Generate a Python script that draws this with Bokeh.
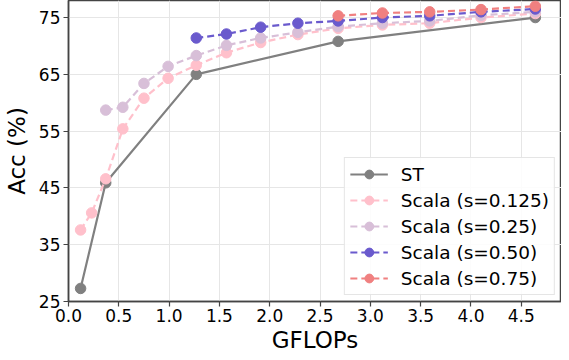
from bokeh.plotting import figure
from bokeh.models import FixedTicker, PrintfTickFormatter, Range1d, Legend, LegendItem, Title
from bokeh.embed import file_html
from bokeh.resources import INLINE

# Data
st_x = [0.12, 0.37, 1.27, 2.68, 4.64]
st_y = [27.3, 45.9, 65.0, 70.8, 75.0]

s0125_x = [0.12, 0.23, 0.37, 0.54, 0.75, 0.99, 1.27, 1.57, 1.91, 2.28, 2.68, 3.12, 3.59, 4.10, 4.64]
s0125_y = [37.6, 40.6, 46.6, 55.4, 60.8, 64.3, 66.6, 68.8, 70.6, 72.0, 73.1, 73.7, 74.0, 75.0, 75.7]

s025_x = [0.37, 0.54, 0.75, 0.99, 1.27, 1.57, 1.91, 2.28, 2.68, 3.12, 3.59, 4.10, 4.64]
s025_y = [58.7, 59.2, 63.4, 66.4, 68.3, 70.1, 71.4, 72.4, 73.4, 74.0, 74.4, 75.4, 76.0]

s050_x = [1.27, 1.57, 1.91, 2.28, 2.68, 3.12, 3.59, 4.10, 4.64]
s050_y = [71.4, 72.1, 73.3, 74.0, 74.4, 75.0, 75.3, 76.0, 76.5]

s075_x = [2.68, 3.12, 3.59, 4.10, 4.64]
s075_y = [75.3, 75.8, 76.0, 76.4, 77.0]

x_ticks = [0.0, 0.5, 1.0, 1.5, 2.0, 2.5, 3.0, 3.5, 4.0, 4.5]
y_ticks = [25, 35, 45, 55, 65, 75]

FONT = "DejaVu Sans"

p = figure(width=561, height=352, output_backend="svg", toolbar_location=None,
           x_range=Range1d(0, 4.9), y_range=Range1d(25, 78.0),
           min_border_top=0, min_border_right=0, min_border_left=0, min_border_bottom=0)

series = [
    ("ST", st_x, st_y, "#808080", "solid"),
    ("Scala (s=0.125)", s0125_x, s0125_y, "#FFC0CB", "7 4"),
    ("Scala (s=0.25)", s025_x, s025_y, "#D8BFD8", "7 4"),
    ("Scala (s=0.50)", s050_x, s050_y, "#6A5ACD", "7 4"),
    ("Scala (s=0.75)", s075_x, s075_y, "#F08080", "7 4"),
]

items = []
for label, xs, ys, color, dash in series:
    l = p.line(xs, ys, line_color=color, line_width=2.2, line_dash=dash)
    c = p.scatter(xs, ys, size=10.5, fill_color=color, line_color=color)
    items.append(LegendItem(label=label, renderers=[l, c]))

legend = Legend(items=items, location="bottom_right")
legend.label_text_font = FONT
legend.label_text_font_size = "18.5px"
legend.label_text_color = "black"
legend.glyph_width = 38
legend.glyph_height = 22
legend.label_height = 22
legend.spacing = 4
legend.padding = 5
legend.margin = 6
legend.label_standoff = 13
legend.border_line_color = "#cccccc"
legend.border_line_width = 1
legend.background_fill_alpha = 0.85
p.add_layout(legend)

p.xaxis.ticker = FixedTicker(ticks=x_ticks)
p.yaxis.ticker = FixedTicker(ticks=y_ticks)
p.xaxis.formatter = PrintfTickFormatter(format="%.1f")
p.yaxis.axis_label = "Acc (%)"

for ax in (p.xaxis, p.yaxis):
    ax.axis_label_text_font = FONT
    ax.axis_label_text_font_size = "23px"
    ax.axis_label_text_font_style = "normal"
    ax.axis_label_text_color = "black"
    ax.major_label_text_font = FONT
    ax.major_label_text_font_size = "17px"
    ax.major_label_text_color = "black"
    ax.axis_line_color = "#444444"
    ax.axis_line_width = 1.5
    ax.major_tick_line_color = "#444444"
    ax.major_tick_line_width = 1.2
    ax.major_tick_out = 5
    ax.major_tick_in = 0
    ax.minor_tick_line_color = None

p.xaxis.major_label_standoff = 2
p.yaxis.major_label_standoff = 3
p.yaxis.axis_label_standoff = 6

xtitle = Title(text="GFLOPs", align="center", text_font=FONT, text_font_size="23px",
               text_font_style="normal", text_color="black", standoff=0)
p.add_layout(xtitle, "below")

p.xgrid.grid_line_color = "#e6e6e6"
p.ygrid.grid_line_color = "#e6e6e6"
p.xgrid.grid_line_width = 1
p.ygrid.grid_line_width = 1

p.outline_line_color = "#444444"
p.outline_line_width = 1.5
p.background_fill_color = "white"
p.border_fill_color = "white"

open("out.html", "w").write(file_html(p, INLINE))
